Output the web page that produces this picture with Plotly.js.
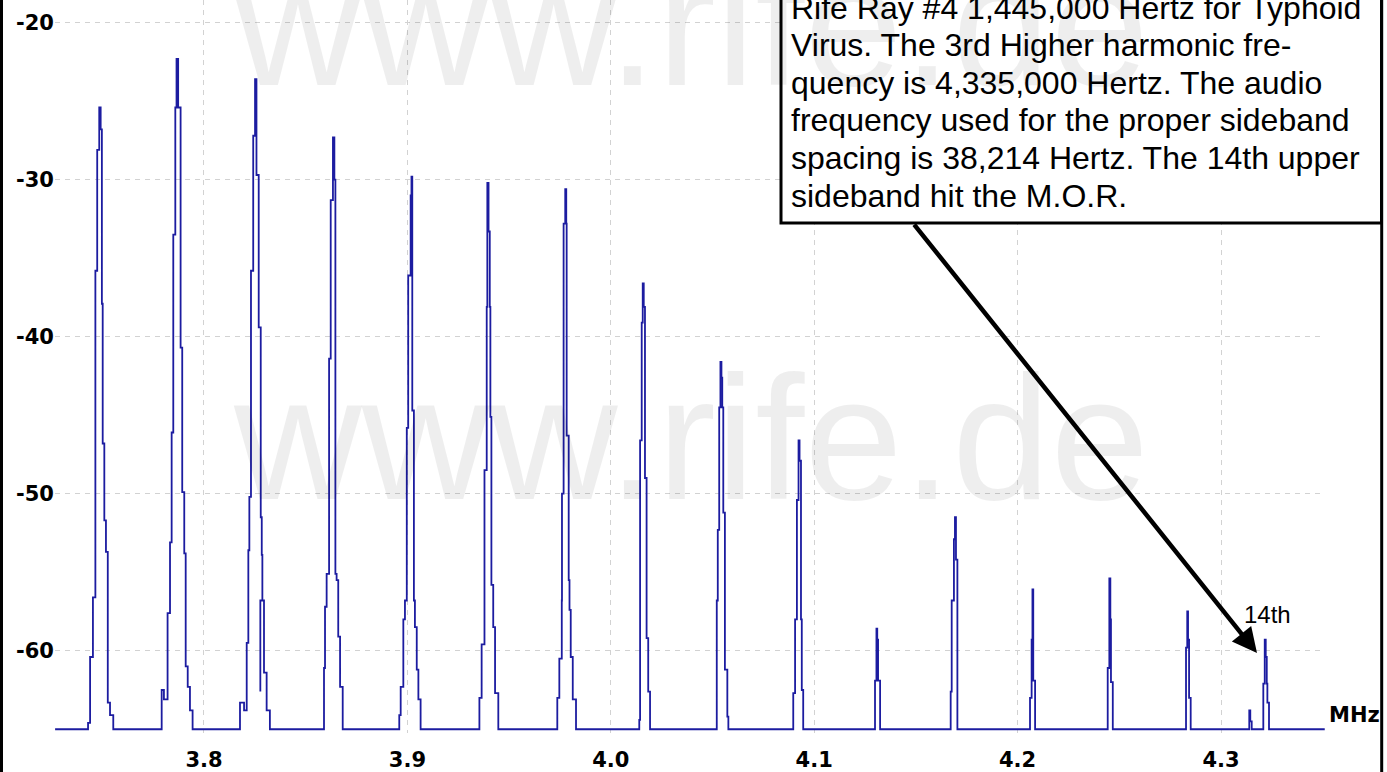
<!DOCTYPE html>
<html>
<head>
<meta charset="utf-8">
<script src="https://cdn.plot.ly/plotly-3.0.1.min.js"></script>
<style>
  html, body { margin: 0; padding: 0; background: #ffffff; }
  #chart { width: 1387px; height: 772px; }
</style>
</head>
<body>
<div id="chart"></div>
<script>
// ---- data (MHz / dB), stepped trace ----
const freqMHz = [
  3.7268,
  3.7430, 3.7440, 3.7454, 3.7466, 3.7475, 3.7485, 3.7492, 3.7498, 3.7502, 3.7510, 3.7518, 3.7527, 3.7538, 3.7554,
  3.7792, 3.7803, 3.7821, 3.7833, 3.7841, 3.7849, 3.7859, 3.7865, 3.7873, 3.7885, 3.7893, 3.7903, 3.7910, 3.7920, 3.7931, 3.7944,
  3.8177, 3.8197, 3.8210, 3.8218, 3.8223, 3.8231, 3.8242, 3.8251, 3.8258, 3.8269, 3.8279, 3.8284, 3.8287, 3.8277, 3.8277, 3.8295, 3.8308, 3.8324,
  3.8590, 3.8595, 3.8603, 3.8615, 3.8623, 3.8634, 3.8641, 3.8646, 3.8652, 3.8660, 3.8669, 3.8682,
  3.8960, 3.8967, 3.8980, 3.8988, 3.8997, 3.9004, 3.9016, 3.9020, 3.9024, 3.9032, 3.9037, 3.9046, 3.9054, 3.9065,
  3.9354, 3.9365, 3.9379, 3.9390, 3.9393, 3.9399, 3.9405, 3.9408, 3.9413, 3.9422, 3.9431, 3.9447,
  3.9737, 3.9747, 3.9759, 3.9760, 3.9768, 3.9776, 3.9781, 3.9783, 3.9793, 3.9797, 3.9803, 3.9813, 3.9829,
  4.0140, 4.0144, 4.0152, 4.0157, 4.0162, 4.0168, 4.0176, 4.0184, 4.0193,
  4.0521, 4.0526, 4.0533, 4.0539, 4.0544, 4.0548, 4.0553, 4.0561, 4.0573, 4.0578,
  4.0897, 4.0906, 4.0915, 4.0923, 4.0928, 4.0935, 4.0939, 4.0946,
  4.1299, 4.1306, 4.1310, 4.1314, 4.1324,
  4.1671, 4.1676, 4.1687, 4.1692, 4.1697, 4.1704,
  4.2061, 4.2069, 4.2073, 4.2077, 4.2086,
  4.2443, 4.2451, 4.2456, 4.2459, 4.2468,
  4.2828, 4.2834, 4.2838, 4.2843, 4.2851,
  4.3139, 4.3144, 4.3151,
  4.3208, 4.3215, 4.3220, 4.3225, 4.3228, 4.3236,
  4.3510
];
const levelDb = [
  -65,
  -64.6, -60.4, -56.6, -35.8, -28.1, -25.4, -26.8, -37.9, -46.8, -51.7, -53.7, -63.3, -64.1, -65,
  -62.5, -63.1, -57.6, -53.1, -46.1, -33.5, -25.4, -22.3, -25.4, -40.7, -49.9, -53.8, -61.0, -62.3, -63.8, -65,
  -63.3, -63.8, -59.5, -53.6, -50.2, -35.8, -27.2, -23.6, -29.7, -39.4, -51.5, -53.9, -56.8, -62.6, -56.8, -61.4, -63.8, -65,
  -61.1, -57.2, -55.1, -41.4, -31.3, -27.3, -30.0, -55.1, -55.5, -59.1, -62.3, -65,
  -64.1, -62.3, -58.0, -56.8, -45.8, -36.1, -31.0, -29.8, -44.7, -56.8, -58.5, -61.2, -63.1, -65,
  -63.0, -59.6, -48.5, -38.1, -30.2, -33.3, -38.1, -45.1, -55.8, -58.5, -62.7, -65,
  -63.0, -60.5, -56.8, -50.0, -32.8, -30.6, -32.8, -46.3, -55.5, -57.4, -60.4, -63.1, -65,
  -64.4, -46.6, -39.1, -36.6, -38.1, -49.0, -59.2, -62.6, -65,
  -56.8, -52.3, -44.5, -41.6, -42.6, -44.5, -51.2, -61.2, -64.2, -65,
  -62.7, -58.0, -50.4, -46.6, -47.9, -58.0, -62.5, -65,
  -61.9, -58.6, -59.3, -61.9, -65,
  -62.6, -56.8, -52.9, -51.5, -54.2, -65,
  -63.0, -59.3, -56.1, -61.9, -65,
  -61.1, -55.4, -58.0, -62.0, -65,
  -59.8, -57.5, -59.3, -63.0, -65,
  -63.8, -64.5, -65,
  -62.1, -59.3, -60.4, -62.1, -63.3, -65,
  -65
];

const xTickVals = [3.8, 3.9, 4.0, 4.1, 4.2, 4.3];
const xTickText = ['3.8', '3.9', '4.0', '4.1', '4.2', '4.3'];
const yTickVals = [-20, -30, -40, -50, -60];
const yTickText = ['-20', '-30', '-40', '-50', '-60'];

const noteLines = [
  'Rife Ray #4 1,445,000 Hertz for Typhoid',
  'Virus. The 3rd Higher harmonic fre-',
  'quency is 4,335,000 Hertz. The audio',
  'frequency used for the proper sideband',
  'spacing is 38,214 Hertz. The 14th upper',
  'sideband hit the M.O.R.'
];
const markerLabel = '14th';
const markerPoint = [4.3177, -60.15];   // arrow tip (MHz, dB)
const markerLabelPos = [4.3229, -57.7];
const unitLabel = 'MHz';
const watermark = 'www.rife.de';

// ---- layout geometry (pixels) ----
const W = 1387, H = 772;
const M = { l: 55, r: 62, t: 0, b: 39 };
const PW = W - M.l - M.r, PH = H - M.t - M.b;
const px = v => (v - M.l) / PW;          // pixel x -> paper
const py = v => (PH + M.t - v) / PH;     // pixel y -> paper

const FONT = 'Liberation Sans, Arial, Helvetica, sans-serif';
const tickFont = { family: 'DejaVu Sans, Verdana, sans-serif', size: 21, color: '#000000', weight: 'bold' };

const trace = {
  type: 'scatter', mode: 'lines',
  x: freqMHz, y: levelDb,
  line: { color: '#1c1ca0', width: 1.8, shape: 'hv', simplify: false },
  hoverinfo: 'skip'
};

const annotations = [];
// watermark (drawn light, over everything)
[84, 498].forEach(base => {
  annotations.push({
    xref: 'paper', yref: 'paper', x: px(232), y: py(base - 160),
    xanchor: 'left', yanchor: 'top', showarrow: false, text: watermark,
    font: { family: FONT, size: 177, color: 'rgba(0,0,0,0.065)' }, borderpad: 0
  });
});
// note text lines
const noteBase0 = 18, notePitch = 37.5;
noteLines.forEach((t, i) => {
  annotations.push({
    xref: 'paper', yref: 'paper', x: px(790), y: py(noteBase0 + i * notePitch - 29),
    xanchor: 'left', yanchor: 'top', showarrow: false, text: t,
    font: { family: FONT, size: 32, color: '#000000' }, borderpad: 0
  });
});
// arrow
annotations.push({
  xref: 'x', yref: 'y', x: markerPoint[0], y: markerPoint[1], text: '',
  showarrow: true, arrowhead: 2, arrowsize: 1.1, arrowwidth: 4.5, arrowcolor: '#000000',
  ax: -344, ay: -430, standoff: 0
});
annotations.push({
  xref: 'x', yref: 'y', x: markerLabelPos[0], y: markerLabelPos[1], text: markerLabel,
  showarrow: false, xanchor: 'center', yanchor: 'middle',
  font: { family: FONT, size: 24, color: '#000000' }
});
annotations.push({
  xref: 'paper', yref: 'paper', x: 1, xshift: 2, y: py(715), text: unitLabel,
  showarrow: false, xanchor: 'left', yanchor: 'middle', font: tickFont
});

const shapes = [
  // note box
  { type: 'rect', xref: 'paper', yref: 'paper', x0: px(781), x1: px(1381.5), y0: py(223), y1: py(-10),
    line: { color: '#000000', width: 3 }, fillcolor: '#ffffff', layer: 'above' },
  // frame lines
  { type: 'line', xref: 'paper', yref: 'paper', x0: px(1.5), x1: px(1.5), y0: py(H + 5), y1: py(-5),
    line: { color: '#000000', width: 3 }, layer: 'above' },
  { type: 'line', xref: 'paper', yref: 'paper', x0: px(1381.7), x1: px(1381.7), y0: py(H + 5), y1: py(-5),
    line: { color: '#000000', width: 3 }, layer: 'above' }
];

const layout = {
  width: W, height: H,
  margin: { l: M.l, r: M.r, t: M.t, b: M.b, pad: 0 },
  paper_bgcolor: '#ffffff', plot_bgcolor: '#ffffff',
  showlegend: false,
  xaxis: {
    range: [3.72675, 4.35113], tickmode: 'array', tickvals: xTickVals, ticktext: xTickText,
    showgrid: true, gridcolor: '#d2d2d2', griddash: '5px,5px', gridwidth: 1,
    zeroline: false, showline: false, ticks: '', tickfont: tickFont, ticklabelstandoff: 12,
    fixedrange: true
  },
  yaxis: {
    range: [-65.24, -18.554], tickmode: 'array', tickvals: yTickVals, ticktext: yTickText,
    showgrid: true, gridcolor: '#d2d2d2', griddash: '5px,5px', gridwidth: 1,
    zeroline: false, showline: false, ticks: '', tickfont: tickFont, ticklabelstandoff: 0,
    fixedrange: true
  },
  annotations: annotations,
  shapes: shapes
};

Plotly.newPlot('chart', [trace], layout, { displayModeBar: false, staticPlot: true });
</script>
</body>
</html>
